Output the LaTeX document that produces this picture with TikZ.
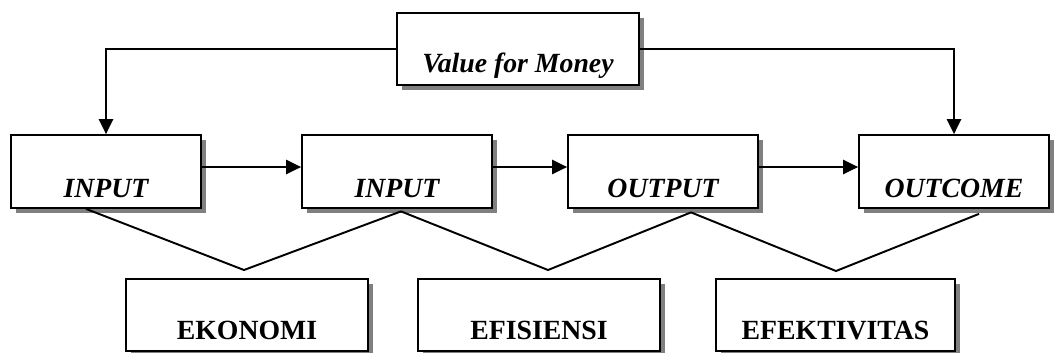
\documentclass[tikz,border=0pt]{standalone}
\usepackage{fontspec}
\setmainfont{Liberation Serif}
\usepackage{tikz}
\usetikzlibrary{positioning,arrows.meta,calc,shadows}
\tikzset{
    block/.style = {
        draw,
        shape=rectangle,
        fill=white,
        inner sep=0pt,
        minimum width=3.8cm,
        text height=1.24cm,
        text depth=0.22cm,
        line width=1pt,
        font=\fontsize{15.8}{18}\selectfont\bfseries\itshape,
        drop shadow={shadow xshift=0.1cm, shadow yshift=-0.1cm, fill=gray, opacity=1}
    },
    topblock/.style = {
        block,
        minimum width=4.84cm,
        text height=1.18cm,
        text depth=0.26cm
    },
    effblock/.style = {
        block,
        minimum width=4.84cm,
        text height=1.2cm,
        text depth=0.24cm,
        font=\fontsize{15.8}{18}\selectfont\bfseries
    },
    link/.style = {
        draw,
        line width=1.1pt
    },
    >={Triangle[length=8.5pt,width=8pt]},
}

\begin{document}
\begin{tikzpicture}
            \useasboundingbox (0,0) rectangle (21.08,-7.04);
            \node[topblock] (vfm) at (10.36,-0.98) {Value for Money};
            \node[block] (in1) at (2.12,-3.43) {INPUT};
            \node[block] (in2) at (7.94,-3.43) {INPUT};
            \node[block] (out) at (13.26,-3.43) {OUTPUT};
            \node[block] (outc) at (19.08,-3.43) {OUTCOME};
            \node[effblock] (eko) at (4.94,-6.3) {EKONOMI};
            \node[effblock] (efi) at (10.78,-6.3) {EFISIENSI};
            \node[effblock, minimum width=4.78cm] (efk) at (16.71,-6.3) {EFEKTIVITAS};

            % meeting points of the lines
            \coordinate (v1) at (4.88,-5.40);
            \coordinate (v2) at (10.96,-5.40);
            \coordinate (v3) at (16.72,-5.42);

            \path[link, ->] (vfm.west) -| (in1.north);
            \path[link, ->] (vfm.east) -| (outc.north);
            \path[link, ->] ($(in1.east)+(0,0.09)$) -- ($(in2.west)+(0,0.09)$);
            \path[link, ->] ($(in2.east)+(0,0.09)$) -- ($(out.west)+(0,0.09)$);
            \path[link, ->] ($(out.east)+(0,0.09)$) -- ($(outc.west)+(0,0.09)$);

            \path[link] ($(in1.south)+(-0.4,0)$) -- (v1) -- ($(in2.south)+(0.08,-0.05)$);
            \path[link] ($(in2.south)+(0.08,-0.05)$) -- (v2) -- ($(out.south)+(0.56,-0.07)$);
            \path[link] ($(out.south)+(0.56,-0.07)$) -- (v3) -- ($(outc.south)+(0.5,-0.1)$);
        \end{tikzpicture}
\end{document}
